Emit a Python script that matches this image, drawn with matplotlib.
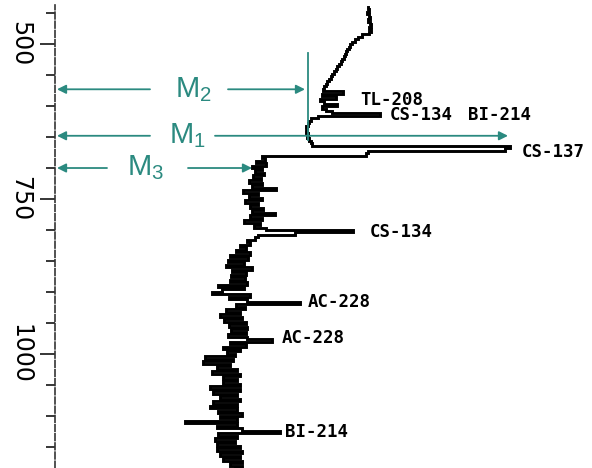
import matplotlib
matplotlib.use("Agg")
import matplotlib.pyplot as plt
import numpy as np

# gamma spectrum (counts in arbitrary units)
counts = [
    368, 369, 367, 369, 370, 368, 370, 371, 369, 371, 369,
    362, 358, 355, 352, 350, 349, 347, 346, 345, 344,
    342, 341, 339, 337, 336, 334, 332, 331, 329, 327, 326, 324, 323,
    343, 322, 336, 320, 324, 337, 322, 326, 332, 380,
    318, 311, 309, 308, 306, 307, 306, 308, 307, 309, 311, 312,
    510, 505, 368, 366, 262,
    265, 256, 266, 252, 262, 255, 264, 253, 261, 249, 262, 252,
    276, 243, 258, 249, 262, 245, 258, 250, 263, 252, 275, 250, 262, 244, 260, 254, 266,
    353, 295, 258, 255, 247, 250, 240, 246, 236, 250,
    230, 248, 228, 244, 226, 252, 232, 246, 231, 245, 230, 247, 218, 244, 222, 212, 250, 229, 247,
    300, 236, 245, 226, 240, 220, 242, 224, 246, 229, 247, 231, 246, 228, 247, 272, 230, 246, 223, 240, 227, 235,
    205, 233, 203, 230, 217, 237, 212, 240, 223, 237, 223, 240, 210, 240, 213, 237, 220, 240, 213, 237, 210, 237, 218, 242, 220, 237,
    185, 237, 217, 242, 280, 218, 237, 215, 235, 217, 240, 217, 242, 220, 240, 223, 242, 230, 242, 235, 240,
]
channel_start = 440   # keV
channel_width = 4     # keV
energy = channel_start + channel_width * np.arange(len(counts))

# peak labels: (text, count position, energy)
peak_names = ["TL-208", "CS-134", "BI-214", "CS-137", "CS-134", "AC-228", "AC-228", "BI-214"]
peak_x = [360, 390, 468, 522, 370, 308, 282, 285]
peak_e = [590, 614, 614, 674, 803, 916, 974, 1126]

# markers M1..M3 (energy, arrow end in counts)
marker_names = ["M$_2$", "M$_1$", "M$_3$"]
marker_e = [573, 648, 700]
marker_end = [305, 508, 252]
marker_text_x = [193, 187, 146]
marker_gap = [(150, 228), (150, 215), (107, 188)]

TEAL = "#2b8a80"

plt.rcParams["mathtext.default"] = "regular"

fig = plt.figure(figsize=(5.92, 4.68), dpi=100)
ax = fig.add_axes([55 / 592, 0, 537 / 592, 463 / 468])

ax.plot(counts, energy, drawstyle="steps-pre", color="black", lw=2.1,
        solid_joinstyle="miter")

ax.set_xlim(55, 592)
ax.set_ylim(1184, 437)

# axis styling
for s in ["top", "right", "bottom"]:
    ax.spines[s].set_visible(False)
ax.spines["left"].set_color("#333333")
ax.spines["left"].set_linewidth(1.2)
ax.spines["left"].set_linestyle((0, (4, 1.5)))
ax.set_xticks([])
ax.set_yticks([500, 750, 1000])
ax.set_yticks(np.arange(450, 1200, 50), minor=True)
ax.tick_params(axis="y", which="major", length=11, width=1.1, pad=5.5,
               labelsize=17, labelrotation=-90)
ax.tick_params(axis="y", which="minor", length=6.5, width=1.1)
for lab in ax.get_yticklabels():
    lab.set_va("center")

# peak labels
for name, x, e in zip(peak_names, peak_x, peak_e):
    ax.text(x, e, name, ha="left", va="center", fontsize=12.5,
            family="DejaVu Sans Mono", fontweight="bold", color="black")

# M arrows
arrow_kw = dict(arrowstyle="-|>", color=TEAL, lw=1.3, mutation_scale=13,
                shrinkA=0, shrinkB=0)
for name, e, xend, xt, (g0, g1) in zip(marker_names, marker_e, marker_end,
                                        marker_text_x, marker_gap):
    ax.annotate("", xy=(57, e), xytext=(g0, e), arrowprops=arrow_kw)
    ax.annotate("", xy=(xend, e), xytext=(g1, e), arrowprops=arrow_kw)
    ax.text(xt, e, name, ha="center", va="center", fontsize=21,
            family="Liberation Sans", color=TEAL)

ax.plot([308, 308], [514, 655], color=TEAL, lw=1.3)

fig.savefig("out.png", dpi=100, facecolor="white")
